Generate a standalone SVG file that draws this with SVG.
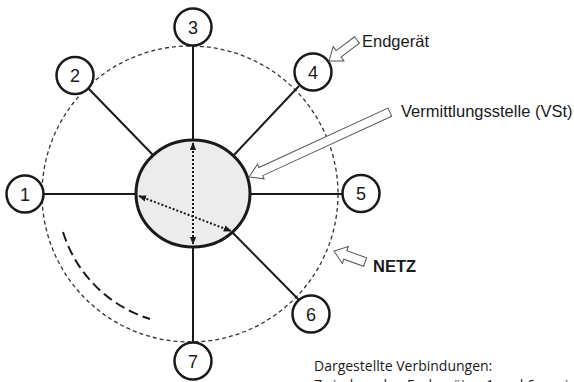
<svg xmlns="http://www.w3.org/2000/svg" width="574" height="382" viewBox="0 0 574 382">
<style>
.node{fill:#fff;stroke:#1a1a1a;stroke-width:2.5}
.lbl{font-family:"Liberation Sans",Arial,sans-serif;font-size:18px;fill:#1a1a1a;text-anchor:middle}
.edge{stroke:#1a1a1a;stroke-width:2;fill:none}
.dot{stroke:#1a1a1a;stroke-width:2;stroke-dasharray:2,2;fill:none}
.hollow{fill:#fff;stroke:#555;stroke-width:1}
.txt{font-family:"Liberation Sans",Arial,sans-serif;font-size:16.5px;fill:#1a1a1a}
.cal{font-family:"Open Sans","Liberation Sans",sans-serif;font-size:14px;fill:#1a1a1a}
</style>
<defs>
<marker id="ah" viewBox="0 0 10 10" refX="9" refY="5" markerWidth="4" markerHeight="4" orient="auto-start-reverse" markerUnits="strokeWidth">
<path d="M0,1 L10,5 L0,9 z" fill="#1a1a1a"/>
</marker>
</defs>
<rect width="574" height="382" fill="#fff"/>
<g id="netz-circle">
<circle cx="190" cy="194" r="148" fill="none" stroke="#333" stroke-width="1.3" stroke-dasharray="4,3"/>
<path d="M63,232 A132,132 0 0 0 150,319" fill="none" stroke="#1a1a1a" stroke-width="2" stroke-dasharray="10,5"/>
</g>
<g id="connectors">
<line class="edge" x1="44" y1="194" x2="136" y2="194"/>
<line class="edge" x1="88" y1="88" x2="153" y2="155"/>
<line class="edge" x1="193" y1="46" x2="193" y2="140"/>
<line class="edge" x1="299" y1="86" x2="234" y2="155"/>
<line class="edge" x1="250" y1="194" x2="342" y2="194"/>
<line class="edge" x1="232" y1="232" x2="299" y2="300"/>
<line class="edge" x1="193" y1="247" x2="193" y2="342"/>
</g>
<g id="vst">
<ellipse cx="193" cy="193.5" rx="57" ry="53.5" fill="#ececec" stroke="#1a1a1a" stroke-width="3"/>
<line class="dot" x1="193" y1="143" x2="193" y2="244" marker-start="url(#ah)" marker-end="url(#ah)"/>
<line class="dot" x1="139" y1="196" x2="231" y2="231" marker-start="url(#ah)" marker-end="url(#ah)"/>
</g>
<g id="n1"><circle class="node" cx="25" cy="194" r="18.5"/><text class="lbl" x="25" y="200.5">1</text></g>
<g id="n2"><circle class="node" cx="75" cy="75.5" r="18.5"/><text class="lbl" x="75" y="82">2</text></g>
<g id="n3"><circle class="node" cx="193" cy="27" r="18.5"/><text class="lbl" x="193" y="33.5">3</text></g>
<g id="n4"><circle class="node" cx="313" cy="72" r="18.5"/><text class="lbl" x="313" y="78.5">4</text></g>
<g id="n5"><circle class="node" cx="361" cy="193.5" r="18.5"/><text class="lbl" x="361" y="200">5</text></g>
<g id="n6"><circle class="node" cx="311" cy="314" r="18.5"/><text class="lbl" x="311" y="320.5">6</text></g>
<g id="n7"><circle class="node" cx="193" cy="361" r="18.5"/><text class="lbl" x="193" y="367.5">7</text></g>
<g id="label-endgeraet">
<polygon class="hollow" transform="translate(329,61) rotate(143.1)" points="0,0 -12,-9 -12,-4 -35,-4 -35,4 -12,4 -12,9"/>
<text class="txt" x="362" y="47">Endgerät</text>
</g>
<g id="label-vst">
<polygon class="hollow" transform="translate(249,177) rotate(155.3)" points="0,0 -13,-8 -13,-4.5 -155,-4.5 -155,4.5 -13,4.5 -13,8"/>
<text class="txt" x="401" y="117">Vermittlungsstelle (VSt)</text>
</g>
<g id="label-netz">
<polygon class="hollow" transform="translate(334,251) rotate(199.5)" points="0,0 -12,-9 -12,-4.5 -33,-4.5 -33,4.5 -12,4.5 -12,9"/>
<text class="txt" x="373" y="272" font-weight="bold">NETZ</text>
</g>
<g id="caption">
<text class="cal" x="314" y="371">Dargestellte Verbindungen:</text>
<text class="cal" x="314" y="390">Zwischen den Endgeräten 1 und 6 sowie 3 und 7</text>
</g>
</svg>
